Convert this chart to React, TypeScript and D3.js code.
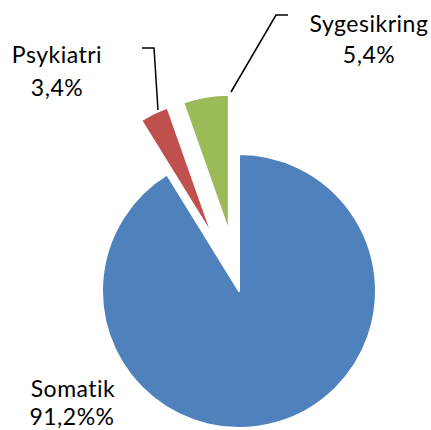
import React from "react";
import * as d3 from "d3";

const categories = ["Somatik", "Psykiatri", "Sygesikring"];
const values = [91.2, 3.4, 5.4];
const valueLabels = ["91,2%%", "3,4%", "5,4%"];
const colors = ["#4F81BD", "#C0504D", "#9BBB59"];
const exploded = [0, 60, 60];

export default function App() {
  const W = 431, H = 430;
  const cx = 239, cy = 291, r = 137;
  const pie = d3.pie<number>().sort(null).value((d) => d);
  const arcs = pie(values);
  const arc = d3.arc<d3.PieArcDatum<number>>().innerRadius(0).outerRadius(r);
  const font = "Lato, 'Open Sans', sans-serif";
  const fs = 23;
  return (
    <svg width={W} height={H} style={{ position: "absolute", left: 0, top: 0, background: "#fff" }}>
      <g transform={`translate(${cx},${cy})`}>
        {arcs.map((a, i) => {
          const mid = (a.startAngle + a.endAngle) / 2;
          const dx = Math.sin(mid) * exploded[i];
          const dy = -Math.cos(mid) * exploded[i];
          return (
            <path key={i} d={arc(a) || ""} transform={`translate(${dx},${dy})`} fill={colors[i]} stroke="#fff" strokeWidth={2} strokeLinejoin="round" />
          );
        })}
      </g>
      <polyline points="142,48 154,48 158,110" fill="none" stroke="#000" strokeWidth={1.5} />
      <polyline points="288,15 276,15 231,92" fill="none" stroke="#000" strokeWidth={1.5} />
      <g fontFamily={font} fontSize={fs} fill="#000" textAnchor="middle" letterSpacing={0.5}>
        <text x={57} y={63}>{categories[1]}</text>
        <text x={57} y={96}>{valueLabels[1]}</text>
        <text x={369} y={32}>{categories[2]}</text>
        <text x={369} y={63}>{valueLabels[2]}</text>
        <text x={73} y={397}>{categories[0]}</text>
        <text x={72} y={425}>{valueLabels[0]}</text>
      </g>
    </svg>
  );
}
